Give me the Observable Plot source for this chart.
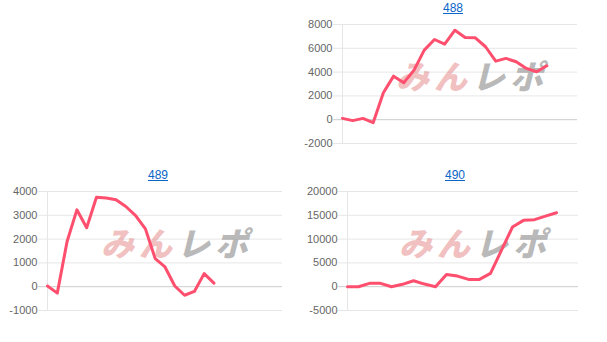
<!DOCTYPE html>
<html><head><meta charset="utf-8">
<script src="https://cdn.jsdelivr.net/npm/d3@7"></script>
<script src="https://cdn.jsdelivr.net/npm/@observablehq/plot@0.6"></script>
<style>
html,body{margin:0;padding:0;background:#fff;}
#root{position:relative;width:607px;height:342px;overflow:hidden;font-family:"Liberation Sans",Arial,sans-serif;}
.panel{position:absolute;}
.ttl{position:absolute;font-size:12px;color:#0a66c8;text-decoration:underline;transform:translateX(-50%);white-space:nowrap;}
.wm text{letter-spacing:5px;}
</style></head>
<body><div id="root"></div>
<script>
// ---- data ----
const titles = ["488", "489", "490"];
const values488 = [110, -80, 110, -250, 2270, 3660, 3100, 4170, 5850, 6740, 6350, 7520, 6910, 6880, 6130, 4920, 5150, 4870, 4310, 4030, 4530];
const values489 = [30, -270, 1900, 3230, 2480, 3760, 3730, 3650, 3370, 2990, 2430, 1180, 830, 30, -360, -200, 550, 150];
const values490 = [0, 0, 700, 700, 0, 500, 1250, 550, 0, 2580, 2230, 1530, 1530, 2790, 7670, 12540, 13940, 14080, 14840, 15540];
const ticks488 = [-2000, 0, 2000, 4000, 6000, 8000];
const ticks489 = [-1000, 0, 1000, 2000, 3000, 4000];
const ticks490 = [-5000, 0, 5000, 10000, 15000, 20000];
const watermark = ["みん", "レポ"];

const root = document.getElementById("root");

function panel({title, values, ticks, xMax, left, top, width, height, ml, mr, mt, mb, titleX, titleY}) {
  const data = values.map((v, i) => ({i, v}));
  const wm = [{t: watermark[0]}, {t: watermark[1]}];
  const chart = Plot.plot({
    width, height,
    marginLeft: ml, marginRight: mr, marginTop: mt, marginBottom: mb,
    style: {fontFamily: "'Liberation Sans', Arial, sans-serif", fontSize: "11px", color: "#666", background: "transparent"},
    x: {domain: [0, xMax], axis: null},
    y: {domain: [ticks[0], ticks[ticks.length - 1]], ticks, tickSize: 0, tickPadding: 10, label: null, tickFormat: d => String(d)},
    marks: [
      Plot.ruleY(ticks.filter(t => t !== 0), {x1: -xMax * 0.038, x2: xMax, stroke: "#e6e6e6", strokeWidth: 1, clip: false}),
      Plot.ruleY([0], {x1: -xMax * 0.038, x2: xMax, stroke: "#cccccc", strokeWidth: 1}),
      Plot.ruleX([0], {stroke: "#e6e6e6", strokeWidth: 1}),
      Plot.text([wm[0]], {text: "t", frameAnchor: "middle", dx: -26, dy: -6, fontSize: 33, fontWeight: 900, fontStyle: "italic", fill: "#e58a8a", fillOpacity: 0.55, fontFamily: "'Noto Sans CJK JP', sans-serif", className: "wm"}),
      Plot.text([wm[1]], {text: "t", frameAnchor: "middle", dx: 50, dy: -6, fontSize: 33, fontWeight: 900, fontStyle: "italic", fill: "#9a9a9a", fillOpacity: 0.7, fontFamily: "'Noto Sans CJK JP', sans-serif", className: "wm"}),
      Plot.line(data, {x: "i", y: "v", stroke: "#ff4f6e", strokeWidth: 3, strokeLinejoin: "round", strokeLinecap: "round"})
    ]
  });
  const div = document.createElement("div");
  div.className = "panel";
  div.style.left = left + "px"; div.style.top = top + "px";
  div.appendChild(chart);
  root.appendChild(div);
  const t = document.createElement("a");
  t.className = "ttl"; t.textContent = title; t.href = "#";
  t.style.left = titleX + "px"; t.style.top = titleY + "px";
  root.appendChild(t);
}

panel({title: titles[0], values: values488, ticks: ticks488, xMax: 23, left: 300, top: 0, width: 307, height: 171, ml: 42, mr: 30, mt: 24, mb: 28, titleX: 453, titleY: 1});
panel({title: titles[1], values: values489, ticks: ticks489, xMax: 24, left: 0, top: 165, width: 300, height: 177, ml: 47, mr: 18, mt: 26, mb: 32, titleX: 158, titleY: 168});
panel({title: titles[2], values: values490, ticks: ticks490, xMax: 21, left: 300, top: 165, width: 307, height: 177, ml: 47, mr: 29, mt: 26, mb: 32, titleX: 455, titleY: 168});
</script></body></html>
